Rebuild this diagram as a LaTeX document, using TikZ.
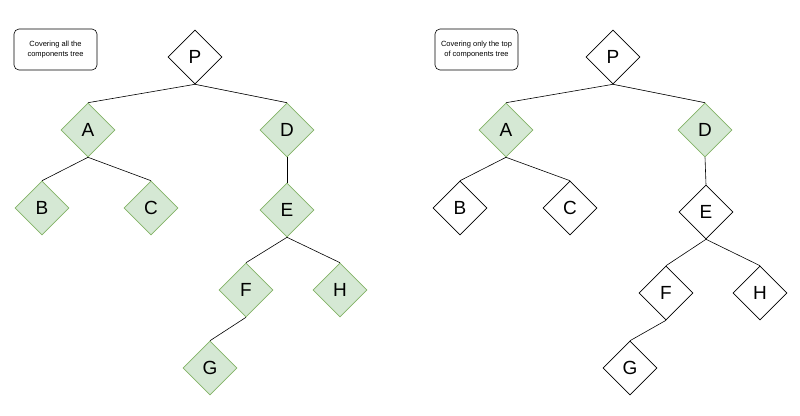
\documentclass[tikz,border=0pt]{standalone}
\usepackage{fontspec}
\setmainfont{Liberation Sans}
\usetikzlibrary{shapes.geometric}
\definecolor{gfill}{HTML}{D5E8D4}
\definecolor{gline}{HTML}{82B366}
\begin{document}
\begin{tikzpicture}[x=1pt,y=-1pt,
  dia/.style={diamond,draw=black,fill=white,minimum width=54pt,minimum height=54pt,inner sep=0pt,font=\fontsize{19}{19}\selectfont,line width=0.6pt},
  gdia/.style={dia,draw=gline,fill=gfill},
  note/.style={draw=black,rounded corners=5pt,minimum width=83pt,minimum height=41pt,align=center,font=\fontsize{7.5}{9.5}\selectfont,line width=0.6pt},
  edge/.style={draw=black,line width=0.6pt}]
\useasboundingbox (0,0) rectangle (800,415);
\node[note] (n1) at (55.5,49.5) {Covering all the\\components tree};
\node[note] (n2) at (476.5,49.5) {Covering only the top\\of components tree};
% left tree
\node[dia] (P) at (195,57) {P};
\node[gdia] (A) at (88,130) {A};
\node[gdia] (D) at (287,130) {D};
\node[gdia] (B) at (42,208) {B};
\node[gdia] (C) at (151,208) {C};
\node[gdia] (E) at (287,210) {E};
\node[gdia] (F) at (246,290) {F};
\node[gdia] (H) at (340,290) {H};
\node[gdia] (G) at (210,368) {G};
\foreach \a/\b in {P/A,P/D,A/B,A/C,D/E,E/F,E/H,F/G}
  \draw[edge] (\a.south) -- (\b.north);
% right tree
\node[dia] (P2) at (613,57) {P};
\node[gdia] (A2) at (506,130) {A};
\node[gdia] (D2) at (705,130) {D};
\node[dia] (B2) at (460,208) {B};
\node[dia] (C2) at (570,208) {C};
\node[dia] (E2) at (706,212) {E};
\node[dia] (F2) at (666,293) {F};
\node[dia] (H2) at (760,293) {H};
\node[dia] (G2) at (630,368) {G};
\foreach \a/\b in {P2/A2,P2/D2,A2/B2,A2/C2,D2/E2,E2/F2,E2/H2,F2/G2}
  \draw[edge] (\a.south) -- (\b.north);
\end{tikzpicture}
\end{document}
